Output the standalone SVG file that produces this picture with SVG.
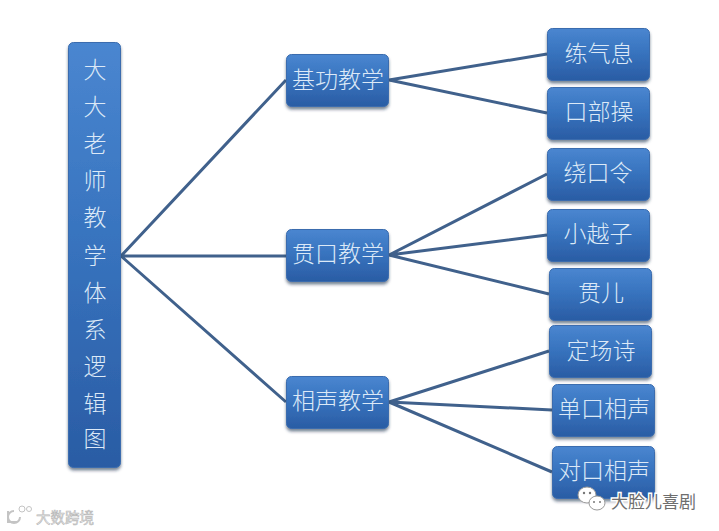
<svg xmlns="http://www.w3.org/2000/svg" width="719" height="531" viewBox="0 0 719 531">
<style>
.box{fill:url(#g);stroke:#3a6cae;stroke-width:1;filter:url(#s)}
.t{font-family:"Noto Sans CJK SC","Noto Sans",sans-serif;font-size:23px;fill:#dce9f7;text-anchor:middle;font-weight:300}
.c{fill:none;stroke:#40618c;stroke-width:3}
.w{font-family:"Noto Sans CJK SC",sans-serif;font-size:17px;fill:#6e6e6e;stroke:#fff;stroke-width:3;paint-order:stroke}
.w2{font-family:"Noto Sans CJK SC",sans-serif;font-size:14.500px;fill:#f0f0f0;stroke:#b8b8b8;stroke-width:.6}
</style>
<defs>
<linearGradient id="g" x1="0" y1="0" x2="0" y2="1"><stop offset="0" stop-color="#4a86d0"/><stop offset=".45" stop-color="#3874bf"/><stop offset="1" stop-color="#2a5ca4"/></linearGradient>
<filter id="s" x="-20%" y="-20%" width="140%" height="140%"><feDropShadow dx="0" dy="2.500" stdDeviation="1.600" flood-color="#1c3050" flood-opacity=".6"/></filter>
</defs>
<rect width="719" height="531" fill="#fff"/>
<g id="connectors">
<path class="c" d="M121 256L286 80M121 256H286M121 256L286 402"/>
<path class="c" d="M389 80L547 54M389 80L547 113"/>
<path class="c" d="M389 255L547 174M389 255L547 235M389 255L549 294"/>
<path class="c" d="M389 402L549 351M389 402L552 410M389 402L552 472"/>
</g>
<g id="root"><rect class="box" x="68.500" y="42.500" width="52" height="425" rx="5"/>
<text class="t" x="95" y="78">大</text><text class="t" x="95" y="115">大</text><text class="t" x="95" y="152">老</text><text class="t" x="95" y="189">师</text><text class="t" x="95" y="226">教</text><text class="t" x="95" y="264">学</text><text class="t" x="95" y="301">体</text><text class="t" x="95" y="338">系</text><text class="t" x="95" y="375">逻</text><text class="t" x="95" y="412">辑</text><text class="t" x="95" y="447">图</text></g>
<g id="n1"><rect class="box" x="286.500" y="54.500" width="102" height="52" rx="5"/><text class="t" x="338" y="88">基功教学</text></g>
<g id="n2"><rect class="box" x="286.500" y="229.500" width="102" height="52" rx="5"/><text class="t" x="338" y="262">贯口教学</text></g>
<g id="n3"><rect class="box" x="286.500" y="376.500" width="102" height="52" rx="5"/><text class="t" x="338" y="409">相声教学</text></g>
<g id="a1"><rect class="box" x="547.500" y="28.500" width="102" height="52" rx="5"/><text class="t" x="599" y="62">练气息</text></g>
<g id="a2"><rect class="box" x="547.500" y="87.500" width="102" height="52" rx="5"/><text class="t" x="599" y="120">口部操</text></g>
<g id="b1"><rect class="box" x="547.500" y="148.500" width="102" height="52" rx="5"/><text class="t" x="598" y="181">绕口令</text></g>
<g id="b2"><rect class="box" x="547.500" y="209.500" width="102" height="52" rx="5"/><text class="t" x="598" y="242">小越子</text></g>
<g id="b3"><rect class="box" x="549.500" y="268.500" width="102" height="52" rx="5"/><text class="t" x="601" y="301">贯儿</text></g>
<g id="c1"><rect class="box" x="549.500" y="325.500" width="102" height="52" rx="5"/><text class="t" x="601" y="359">定场诗</text></g>
<g id="c2"><rect class="box" x="552.500" y="384.500" width="102" height="52" rx="5"/><text class="t" x="604" y="417">单口相声</text></g>
<g id="c3"><rect class="box" x="552.500" y="446.500" width="102" height="52" rx="5"/><text class="t" x="604" y="479">对口相声</text></g>
<g id="wm-right">
<ellipse cx="587" cy="495" rx="9" ry="8" fill="#fff" stroke="#999" stroke-width="1"/>
<ellipse cx="597" cy="503" rx="8" ry="7" fill="#fff" stroke="#999" stroke-width="1"/>
<circle cx="584" cy="493" r="1.200" fill="#777"/><circle cx="590" cy="493" r="1.200" fill="#777"/><circle cx="594" cy="502" r="1" fill="#777"/><circle cx="600" cy="502" r="1" fill="#777"/>
<text class="w" x="611" y="508">大脸儿喜剧</text></g>
<g id="wm-left">
<text class="w2" x="36" y="523">大数跨境</text>
<path d="M8 511v11h10M14 511a6 6 0 1 0 6 6" fill="none" stroke="#c4c4c4" stroke-width="2"/>
<circle cx="22" cy="509" r="3" fill="none" stroke="#c4c4c4"/><circle cx="29" cy="509" r="2.500" fill="none" stroke="#c4c4c4"/>
</g>
</svg>
